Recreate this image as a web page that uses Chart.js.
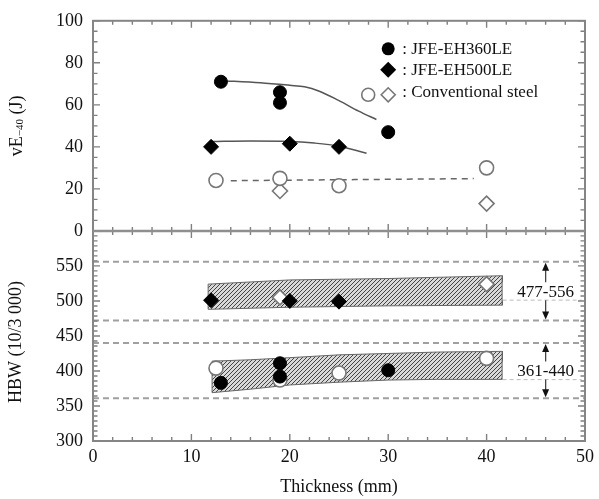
<!DOCTYPE html>
<html><head><meta charset="utf-8">
<script src="https://cdn.jsdelivr.net/npm/chart.js@4.4.1/dist/chart.umd.min.js"></script>
<style>html,body{margin:0;padding:0;background:#fff}#wrap{width:599px;height:499px;position:relative}</style>
</head><body><div id="wrap"><canvas id="c" width="599" height="499"></canvas></div>
<script>
// ---- data ----
// top panel: vE-40 (J) vs thickness (mm)
const eh360Thk = [13, 19, 19, 30];
const eh360VE  = [71, 66, 61, 47];
const eh500Thk = [12, 20, 25];
const eh500VE  = [40, 41.5, 40];
const convCircThk = [12.5, 19, 25, 40];
const convCircVE  = [24, 25, 21.5, 30];
const convDiaThk = [19, 40];
const convDiaVE  = [19, 13];
const fit360Thk = [13, 17, 20, 21.5, 23, 25, 27, 28.8];
const fit360VE  = [71.5, 70.5, 69.3, 68.6, 66.5, 62, 57, 53];
const fit500Thk = [12, 16, 20, 22.5, 25, 27.8];
const fit500VE  = [42.5, 42.8, 42.6, 41.8, 40.3, 37];
const convFitThk = [14, 38.7];
const convFitVE  = [23.9, 24.9];
// bottom panel: HBW (10/3 000) vs thickness
const hbw360Thk = [13, 19, 19, 30];
const hbw360    = [383, 411, 392, 401];
const hbw500Thk = [12, 20, 25];
const hbw500    = [501, 500, 499];
const hbwConvCircThk = [12.5, 19, 25, 40];
const hbwConvCirc    = [404, 387, 397, 418];
const hbwConvDiaThk  = [19, 40];
const hbwConvDia     = [505, 524];
const bandHiThk = [11.7, 20, 30, 41.6, 41.6, 30, 20, 11.7, 11.7];
const bandHi    = [524, 530, 532, 536, 494, 493, 491, 488, 524];
const bandLoThk = [12.1, 16, 20, 25, 30, 35, 41.6, 41.6, 35, 30, 25, 20, 16, 12.1, 12.1];
const bandLo    = [414, 416, 419, 423, 425, 427, 428, 388, 388, 387, 384, 380, 374, 369, 414];
const refLevels = [556, 472, 440, 361];
const rangeText = ['477-556', '361-440'];
const rangeHigh = [556, 440];
const rangeLow  = [472, 361];
const rangeAtThk = 46;
const legendText = [': JFE-EH360LE', ': JFE-EH500LE', ': Conventional steel'];

const FONT = "'Liberation Serif', 'Times New Roman', serif";
const pts = (xs, ys) => xs.map((x, i) => ({x: x, y: ys[i]}));

const canvas = document.getElementById('c');
const ctx0 = canvas.getContext('2d');
const pc = document.createElement('canvas'); pc.width = 4; pc.height = 4;
const p = pc.getContext('2d');
p.fillStyle = '#d9d9d9'; p.fillRect(0, 0, 4, 4);
p.strokeStyle = '#444'; p.lineWidth = 1;
p.beginPath(); p.moveTo(0, 4); p.lineTo(4, 0); p.moveTo(-1, 1); p.lineTo(1, -1); p.moveTo(3, 5); p.lineTo(5, 3); p.stroke();
const hatch = ctx0.createPattern(pc, 'repeat');

function marker(style, filled, xs, ys, axis, r) {
  return {type: 'line', showLine: false, yAxisID: axis, order: 0,
    data: pts(xs, ys), pointStyle: style, pointRadius: r, pointHoverRadius: r,
    pointBackgroundColor: filled ? '#000' : '#fff',
    pointBorderColor: filled ? '#000' : '#777', pointBorderWidth: filled ? 1 : 1.6};
}
function curve(xs, ys, axis, dash) {
  return {type: 'line', yAxisID: axis, order: 1, data: pts(xs, ys), borderColor: dash ? '#666' : '#555',
    borderWidth: 1.5, borderDash: dash ? [6, 5] : [], pointRadius: 0, tension: dash ? 0 : 0.4,
    cubicInterpolationMode: 'monotone', fill: false};
}

const datasets = [
  marker('circle', true, eh360Thk, eh360VE, 'yTop', 6.5),
  marker('rectRot', true, eh500Thk, eh500VE, 'yTop', 7.5),
  marker('circle', false, convCircThk, convCircVE, 'yTop', 7),
  marker('rectRot', false, convDiaThk, convDiaVE, 'yTop', 7.5),
  marker('circle', true, hbw360Thk, hbw360, 'yBot', 6.5),
  marker('rectRot', true, hbw500Thk, hbw500, 'yBot', 7.5),
  marker('circle', false, hbwConvCircThk, hbwConvCirc, 'yBot', 7),
  marker('rectRot', false, hbwConvDiaThk, hbwConvDia, 'yBot', 7.5),
  curve(fit360Thk, fit360VE, 'yTop', false),
  curve(fit500Thk, fit500VE, 'yTop', false),
  curve(convFitThk, convFitVE, 'yTop', true),
];
refLevels.forEach(v => datasets.push({type: 'line', yAxisID: 'yBot', order: 2,
  data: [{x: 0, y: v}, {x: 50, y: v}], borderColor: '#a0a0a0', borderWidth: 2,
  borderDash: [6, 4], pointRadius: 0, fill: false}));
[[bandHiThk, bandHi], [bandLoThk, bandLo]].forEach(b => datasets.push({type: 'line', yAxisID: 'yBot', order: 3,
  data: pts(b[0], b[1]), borderColor: '#666', borderWidth: 1, pointRadius: 0, tension: 0,
  backgroundColor: hatch, fill: 'shape'}));

const decor = {
  id: 'decor',
  afterDatasetsDraw(chart) {
    const c = chart.ctx, ca = chart.chartArea, sx = chart.scales.x;
    const yT = chart.scales.yTop, yB = chart.scales.yBot;
    const L = ca.left, R = ca.right;
    const top = Math.min(yT.top, yB.top), bottom = Math.max(yT.bottom, yB.bottom);
    const mid = yT.bottom;
    c.save();
    // range labels + arrows
    c.font = '17px ' + FONT; c.textAlign = 'center'; c.textBaseline = 'middle';
    const ax = sx.getPixelForValue(rangeAtThk);
    rangeText.forEach((t, i) => {
      const yh = yB.getPixelForValue(rangeHigh[i]), yl = yB.getPixelForValue(rangeLow[i]);
      const ym = (yh + yl) / 2;
      const bx = ax - 43, bw = 79, bt = ym - 9, bh = 18;
      c.fillStyle = '#fff'; c.fillRect(bx, bt, bw, bh);
      c.strokeStyle = '#bbb'; c.lineWidth = 1; c.setLineDash([4, 3]);
      c.beginPath(); c.moveTo(bx, bt + bh); c.lineTo(bx + bw, bt + bh); c.stroke(); c.setLineDash([]);
      c.fillStyle = '#111'; c.fillText(t, ax, ym + 1);
      c.strokeStyle = '#444'; c.lineWidth = 1.3; c.fillStyle = '#111';
      c.beginPath(); c.moveTo(ax, bt); c.lineTo(ax, yh + 6); c.moveTo(ax, bt + bh); c.lineTo(ax, yl - 6); c.stroke();
      c.beginPath(); c.moveTo(ax, yh + 1); c.lineTo(ax - 3.5, yh + 9); c.lineTo(ax + 3.5, yh + 9); c.closePath(); c.fill();
      c.beginPath(); c.moveTo(ax, yl - 1); c.lineTo(ax - 3.5, yl - 9); c.lineTo(ax + 3.5, yl - 9); c.closePath(); c.fill();
    });
    // ticks
    c.strokeStyle = '#808080'; c.lineWidth = 1.4;
    c.beginPath();
    for (let v = 0; v <= 50; v += 2) {
      const px = sx.getPixelForValue(v), maj = v % 10 === 0, len = maj ? 7 : 4;
      c.moveTo(px, top); c.lineTo(px, top + len);
      c.moveTo(px, mid - len); c.lineTo(px, mid + len);
      c.moveTo(px, bottom); c.lineTo(px, bottom - len);
    }
    for (let v = 0; v <= 100; v += 5) {
      const py = yT.getPixelForValue(v), len = v % 20 === 0 ? 7 : 4.5;
      c.moveTo(L, py); c.lineTo(L + len, py); c.moveTo(R, py); c.lineTo(R - len, py);
    }
    for (let k = 0; k <= 42; k++) {
      const v = 300 + k * 50 / 7, py = yB.getPixelForValue(v), len = k % 7 === 0 ? 7 : 4.5;
      c.moveTo(L, py); c.lineTo(L + len, py); c.moveTo(R, py); c.lineTo(R - len, py);
    }
    c.stroke();
    // frame
    c.strokeStyle = '#858585'; c.lineWidth = 2;
    c.strokeRect(L, top, R - L, bottom - top);
    c.lineWidth = 2.5; c.strokeStyle = '#8f8f8f';
    c.beginPath(); c.moveTo(L, mid); c.lineTo(R, mid); c.stroke();
    // legend
    const lx = L + 0.6 * (R - L), tx = lx + 14;
    const rows = [yT.top + 28, yT.top + 49, yT.top + 71];
    c.fillStyle = '#000';
    c.beginPath(); c.arc(lx, rows[0], 6.5, 0, Math.PI * 2); c.fill();
    c.beginPath(); c.moveTo(lx - 8, rows[1]); c.lineTo(lx, rows[1] - 8); c.lineTo(lx + 8, rows[1]); c.lineTo(lx, rows[1] + 8); c.closePath(); c.fill();
    c.fillStyle = '#fff'; c.strokeStyle = '#777'; c.lineWidth = 1.6;
    const r3 = rows[2] + 3;
    c.beginPath(); c.arc(lx - 20, r3, 6.5, 0, Math.PI * 2); c.fill(); c.stroke();
    c.beginPath(); c.moveTo(lx - 7, r3); c.lineTo(lx, r3 - 7); c.lineTo(lx + 7, r3); c.lineTo(lx, r3 + 7); c.closePath(); c.fill(); c.stroke();
    c.fillStyle = '#111'; c.font = '17px ' + FONT; c.textAlign = 'left'; c.textBaseline = 'middle';
    legendText.forEach((t, i) => c.fillText(t, tx, rows[i] + 1));
    // axis titles
    c.font = '18px ' + FONT; c.textAlign = 'center'; c.textBaseline = 'middle'; c.fillStyle = '#111';
    c.fillText('Thickness (mm)', (L + R) / 2, 487);
    c.save(); c.translate(17, (yT.top + yT.bottom) / 2); c.rotate(-Math.PI / 2);
    const w1 = c.measureText('vE').width;
    c.font = '11px ' + FONT; const w2 = c.measureText('\u221240').width;
    c.font = '18px ' + FONT; const w3 = c.measureText(' (J)').width;
    let x0 = -(w1 + w2 + w3) / 2; c.textAlign = 'left';
    c.fillText('vE', x0, 0);
    c.font = '11px ' + FONT; c.fillText('\u221240', x0 + w1, 3);
    c.font = '18px ' + FONT; c.fillText(' (J)', x0 + w1 + w2, 0);
    c.restore();
    c.save(); c.translate(16, (yB.top + yB.bottom) / 2 + 6); c.rotate(-Math.PI / 2);
    c.textAlign = 'center'; c.fillText('HBW (10/3 000)', 0, 0);
    c.restore();
    c.restore();
  }
};

const tickFont = {family: FONT, size: 18};
new Chart(canvas, {
  data: {datasets: datasets},
  options: {
    responsive: false, animation: false, devicePixelRatio: 1, events: [],
    layout: {padding: {top: 13, right: 8, left: 0, bottom: 0}},
    plugins: {legend: {display: false}, tooltip: {enabled: false}},
    scales: {
      x: {type: 'linear', position: 'bottom', min: 0, max: 50,
        afterFit: s => { s.height = 58; },
        ticks: {stepSize: 10, font: tickFont, color: '#111', padding: 5, maxRotation: 0, autoSkip: false},
        grid: {display: false, drawTicks: false}, border: {display: false}},
      yBot: {type: 'linear', position: 'left', stack: 'panels', stackWeight: 1, min: 300, max: 600,
        afterFit: s => { s.width = 93; },
        ticks: {stepSize: 50, font: tickFont, color: '#111', padding: 10, autoSkip: false,
          callback: v => v === 600 ? '' : v},
        grid: {display: false, drawTicks: false}, border: {display: false}},
      yTop: {type: 'linear', position: 'left', stack: 'panels', stackWeight: 1, min: 0, max: 100,
        afterFit: s => { s.width = 93; },
        ticks: {stepSize: 20, font: tickFont, color: '#111', padding: 10, autoSkip: false},
        grid: {display: false, drawTicks: false}, border: {display: false}}
    }
  },
  plugins: [decor]
});
</script>
</body></html>
